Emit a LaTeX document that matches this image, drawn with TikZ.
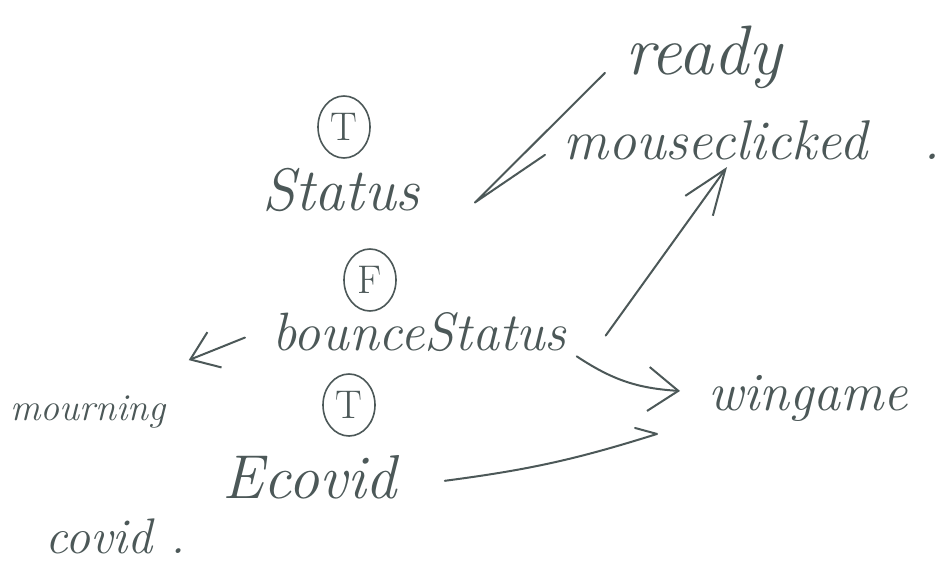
\documentclass[tikz,border=0pt]{standalone}
\usepackage{fontspec}
\usepackage{xcolor}
\usepackage{tikz}
\usetikzlibrary{arrows.meta,shapes,calc}
\definecolor{ink}{RGB}{76,88,88}

\begin{document}
\begin{tikzpicture}[x=1pt,y=-1pt]
  \tikzset{word/.style = {text=ink, inner sep=0pt, anchor=base west, font=\fontsize{#1}{#1}\selectfont\itshape}}
  \tikzset{circled/.style = {draw=ink, text=ink, ellipse, line width=1.6pt, minimum width=52pt, minimum height=62pt, inner sep=0pt, font=\fontsize{40}{44}\selectfont}}
  \tikzset{pen/.style = {draw=ink, line width=2pt, line cap=round, line join=round}}
  \useasboundingbox (0,0) rectangle (942,567);

  % words
  \node[word=70] (ready) at (625,75) {ready};
  \node[word=56] (mc) at (563,160) {mouseclicked\quad.};
  \node[word=60] (stat) at (262,210) {Status};
  \node[word=54] (bounce) at (272,350) {bounceStatus};
  \node[word=38] (mourn) at (10,420) {mourning};
  \node[word=62] (ecovid) at (222,498) {Ecovid};
  \node[word=50] (covid) at (45,553) {covid\ .};
  \node[word=54] (win) at (708,410) {wingame};

  % circled values
  \foreach \l/\n/\x/\y in {T/stat/344/127, F/bounce/370/280, T/ecovid/349/405}
  {
    \node[circled] (tag\n) at (\x,\y) {\l};
  }

  % edges
  \draw[pen] ([xshift=-20pt,yshift=-15pt]ready.west) -- ([xshift=55pt,yshift=-13pt]stat.east)
    -- ([xshift=-18pt,yshift=-14pt]mc.west);
  \draw[pen, -{Straight Barb[length=45pt,width=34pt]}] ([xshift=39pt,yshift=-4pt]bounce.east)
    -- ([xshift=164pt,yshift=-7pt]mc.base west);
  \draw[pen, -{Straight Barb[length=26pt,width=38pt]}] ([xshift=-27pt,yshift=-6pt]bounce.west)
    -- ([xshift=23pt,yshift=35pt]mourn.north east);
  \draw[pen, -{Straight Barb[length=30pt,width=44pt]}] ([xshift=10pt,yshift=-5pt]bounce.south east)
    to[bend right=15] ([xshift=-28pt,yshift=7pt]win.west);
  \draw[pen] ([xshift=48pt,yshift=-4pt]ecovid.east)
    to[bend right=5] ([xshift=-51pt,yshift=-36pt]win.west) -- ++(-22,-6);
\end{tikzpicture}
\end{document}
